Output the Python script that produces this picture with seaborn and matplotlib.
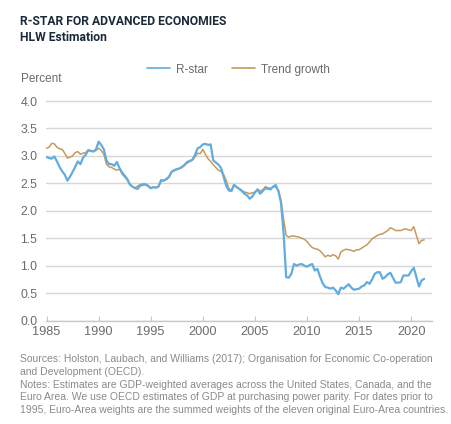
import pandas as pd
import seaborn as sns
import matplotlib.pyplot as plt

# quarterly estimates, 1985Q1 .. 2021Q2
quarters = pd.period_range("1985Q1", "2021Q2", freq="Q")

rstar = [
    2.98, 2.96, 2.95, 2.99,  2.90, 2.80, 2.72, 2.66,  2.55, 2.62, 2.71, 2.80,
    2.90, 2.85, 2.97, 3.02,  3.10, 3.09, 3.08, 3.12,  3.26, 3.20, 3.12, 2.92,
    2.85, 2.85, 2.82, 2.89,  2.78, 2.70, 2.64, 2.58,  2.48, 2.44, 2.41, 2.40,
    2.46, 2.47, 2.48, 2.45,  2.41, 2.43, 2.42, 2.44,  2.56, 2.55, 2.58, 2.62,
    2.71, 2.74, 2.76, 2.77,  2.80, 2.84, 2.89, 2.91,  2.93, 3.02, 3.14, 3.16,
    3.21, 3.22, 3.20, 3.21,  2.92, 2.88, 2.84, 2.78,  2.62, 2.45, 2.37, 2.36,
    2.47, 2.43, 2.40, 2.36,  2.31, 2.28, 2.22, 2.26,  2.33, 2.39, 2.31, 2.36,
    2.41, 2.40, 2.39, 2.44,  2.47, 2.36, 2.15, 1.60,  0.79, 0.78, 0.85, 1.03,
    1.00, 1.02, 1.03, 1.00,  0.98, 1.01, 1.03, 0.91,  0.94, 0.80, 0.68, 0.61,
    0.60, 0.58, 0.60, 0.55,  0.48, 0.60, 0.58, 0.62,  0.66, 0.60, 0.56, 0.57,
    0.58, 0.62, 0.64, 0.70,  0.67, 0.75, 0.85, 0.88,  0.88, 0.76, 0.79, 0.84,
    0.87, 0.78, 0.69, 0.69,  0.70, 0.82, 0.82, 0.82,  0.90, 0.96, 0.79, 0.62,
    0.73, 0.76,
]

trend = [
    3.14, 3.16, 3.23, 3.22,  3.16, 3.13, 3.12, 3.05,  2.96, 2.98, 3.00, 3.06,
    3.08, 3.03, 3.05, 3.06,  3.11, 3.10, 3.08, 3.10,  3.14, 3.10, 3.03, 2.85,
    2.80, 2.79, 2.76, 2.74,  2.76, 2.67, 2.62, 2.56,  2.48, 2.44, 2.42, 2.45,
    2.48, 2.49, 2.49, 2.46,  2.42, 2.43, 2.43, 2.45,  2.54, 2.55, 2.57, 2.61,
    2.70, 2.73, 2.75, 2.77,  2.79, 2.83, 2.87, 2.90,  2.92, 2.98, 3.05, 3.04,
    3.12, 3.03, 2.95, 2.90,  2.84, 2.79, 2.74, 2.72,  2.66, 2.55, 2.40, 2.38,
    2.48, 2.43, 2.40, 2.37,  2.34, 2.33, 2.31, 2.33,  2.34, 2.39, 2.36, 2.38,
    2.44, 2.42, 2.41, 2.44,  2.43, 2.38, 2.20, 1.85,  1.55, 1.52, 1.54, 1.54,
    1.53, 1.52, 1.50, 1.48,  1.44, 1.38, 1.33, 1.31,  1.30, 1.27, 1.22, 1.16,
    1.19, 1.17, 1.20, 1.18,  1.12, 1.25, 1.28, 1.30,  1.29, 1.28, 1.26, 1.29,
    1.29, 1.32, 1.35, 1.38,  1.43, 1.49, 1.52, 1.55,  1.57, 1.58, 1.61, 1.64,
    1.69, 1.67, 1.64, 1.64,  1.64, 1.66, 1.67, 1.65,  1.64, 1.71, 1.55, 1.40,
    1.46, 1.47,
]

xticks = [1985, 1990, 1995, 2000, 2005, 2010, 2015, 2020]
yticks = [0.0, 0.5, 1.0, 1.5, 2.0, 2.5, 3.0, 3.5, 4.0]

df = pd.DataFrame({
    "year": [q.year + (q.quarter - 1) / 4 for q in quarters],
    "R-star": rstar,
    "Trend growth": trend,
})

sns.set_theme(style="whitegrid")
plt.rcParams["font.family"] = ["Liberation Sans", "DejaVu Sans"]

blue = "#62acdf"
tan = "#c49b5a"
grey_txt = "#6b6b6b"

fig = plt.figure(figsize=(4.52, 4.24), dpi=100)
ax = fig.add_axes([0.1018, 0.2441, 0.854, 0.524])

sns.lineplot(data=df, x="year", y="Trend growth", color=tan, linewidth=1.1, ax=ax)
sns.lineplot(data=df, x="year", y="R-star", color=blue, linewidth=1.6, ax=ax)

ax.set_xlim(1984.95, 2022)
ax.set_ylim(0, 4.05)
ax.set_xticks(xticks)
ax.set_yticks(yticks)
ax.set_yticklabels([f"{v:.1f}" for v in yticks])
ax.set_xlabel("")
ax.set_ylabel("")

ax.grid(axis="x", visible=False)
ax.grid(axis="y", color="#d6d6d6", linewidth=1.0)
for s in ["left", "right", "top"]:
    ax.spines[s].set_visible(False)
ax.spines["bottom"].set_color("#c8c8c8")
ax.spines["bottom"].set_linewidth(1.0)

ax.tick_params(axis="x", direction="in", length=3.5, width=0.8, color="#c8c8c8",
               labelsize=9.2, labelcolor=grey_txt, pad=4, bottom=True)
ax.tick_params(axis="y", length=0, labelsize=8.8, labelcolor=grey_txt, pad=6.2)

handles = [plt.Line2D([], [], color=blue, linewidth=1.2),
           plt.Line2D([], [], color=tan, linewidth=1.2)]
fig.legend(handles, ["R-star", "Trend growth"], loc="center",
           bbox_to_anchor=(0.527, 0.836), ncol=2, frameon=False,
           fontsize=8.5, labelcolor=grey_txt, handlelength=2.0,
           handletextpad=0.5, columnspacing=2.0)

fig.text(0.044, 0.949, "R-STAR FOR ADVANCED ECONOMIES", fontsize=8.7,
         fontweight="bold", color="#1b2a3a", va="center", family="Roboto")
fig.text(0.044, 0.912, "HLW Estimation", fontsize=8.7,
         fontweight="bold", color="#1b2a3a", va="center", family="Roboto")
fig.text(0.046, 0.813, "Percent", fontsize=8.5, color=grey_txt, va="center")

notes = ("Sources: Holston, Laubach, and Williams (2017); Organisation for Economic Co-operation\n"
         "and Development (OECD).\n"
         "Notes: Estimates are GDP-weighted averages across the United States, Canada, and the\n"
         "Euro Area. We use OECD estimates of GDP at purchasing power parity. For dates prior to\n"
         "1995, Euro-Area weights are the summed weights of the eleven original Euro-Area countries.")
fig.text(0.044, 0.164, notes, fontsize=7.5, color="#8a8a8a", va="top",
         linespacing=1.32)

fig.savefig("out.png", dpi=100)
